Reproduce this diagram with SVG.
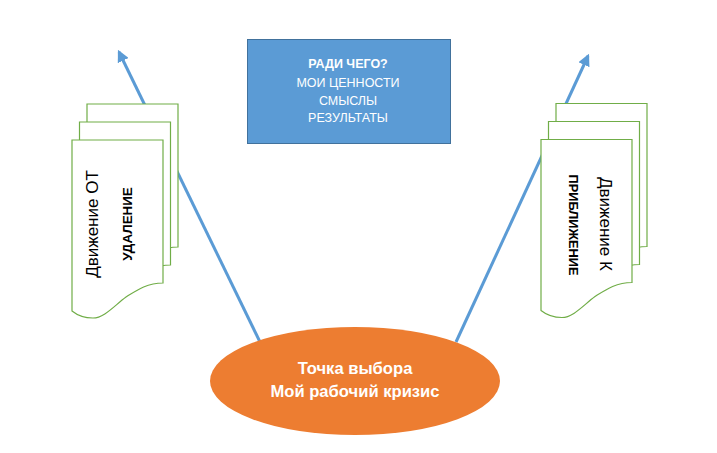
<svg xmlns="http://www.w3.org/2000/svg" xmlns:xlink="http://www.w3.org/1999/xlink" width="717" height="453" viewBox="0 0 717 453">
  <style>
    .doc { fill: #ffffff; stroke: #70AD47; stroke-width: 1.2; }
    .conn { stroke: #5B9BD5; stroke-width: 3; fill: none; }
    .t { font-family: "Liberation Sans", Arial, sans-serif; }
    .boxt { font-family: "Liberation Sans", Arial, sans-serif; font-size: 12.5px; fill: #ffffff; text-anchor: middle; }
  </style>
  <defs>
    <marker id="ah" viewBox="0 0 10 10" refX="8" refY="5" markerWidth="4" markerHeight="4" orient="auto" markerUnits="strokeWidth">
      <path d="M0,0 L10,5 L0,10 Z" fill="#5B9BD5"/>
    </marker>
    <path id="docshape" d="M0,0 H91 V143 C75,143 65,150 54,157 C42,166 32,178 21,178 C12,178 5,175 0,171 Z"/>
  </defs>
  <rect width="717" height="453" fill="#ffffff"/>

  <g id="connectors">
    <line class="conn" x1="260" y1="342" x2="119" y2="52" marker-end="url(#ah)"/>
    <line class="conn" x1="456" y1="342" x2="588" y2="56" marker-end="url(#ah)"/>
  </g>

  <g id="doc-left">
    <use xlink:href="#docshape" class="doc" transform="translate(87,104)"/>
    <use xlink:href="#docshape" class="doc" transform="translate(79.5,122)"/>
    <use xlink:href="#docshape" class="doc" transform="translate(72,140)"/>
    <text class="t" font-size="17" text-anchor="middle" transform="translate(98,224) rotate(-90)">Движение ОТ</text>
    <text class="t" font-size="13.4" font-weight="bold" text-anchor="middle" transform="translate(131.5,224) rotate(-90)">УДАЛЕНИЕ</text>
  </g>

  <g id="doc-right">
    <use xlink:href="#docshape" class="doc" transform="translate(556,103.5)"/>
    <use xlink:href="#docshape" class="doc" transform="translate(548.5,121.5)"/>
    <use xlink:href="#docshape" class="doc" transform="translate(541,139.5)"/>
    <text class="t" font-size="17" text-anchor="middle" transform="translate(600,224) rotate(90)">Движение К</text>
    <text class="t" font-size="12.8" font-weight="bold" text-anchor="middle" transform="translate(568.5,225) rotate(90)">ПРИБЛИЖЕНИЕ</text>
  </g>

  <g id="box-values">
    <rect x="247.5" y="39.5" width="203" height="104" fill="#5B9BD5" stroke="#41719C" stroke-width="1"/>
    <text class="boxt" x="348" y="67.5" font-weight="bold">РАДИ ЧЕГО?</text>
    <text class="boxt" x="348" y="86.5">МОИ ЦЕННОСТИ</text>
    <text class="boxt" x="348" y="105">СМЫСЛЫ</text>
    <text class="boxt" x="348" y="121.5">РЕЗУЛЬТАТЫ</text>
  </g>

  <g id="choice-point">
    <ellipse cx="355" cy="381" rx="145" ry="54" fill="#ED7D31"/>
    <text class="t" x="355" y="374" font-size="16.6" font-weight="bold" fill="#ffffff" text-anchor="middle">Точка выбора</text>
    <text class="t" x="355" y="397" font-size="16.6" font-weight="bold" fill="#ffffff" text-anchor="middle">Мой рабочий кризис</text>
  </g>
</svg>
